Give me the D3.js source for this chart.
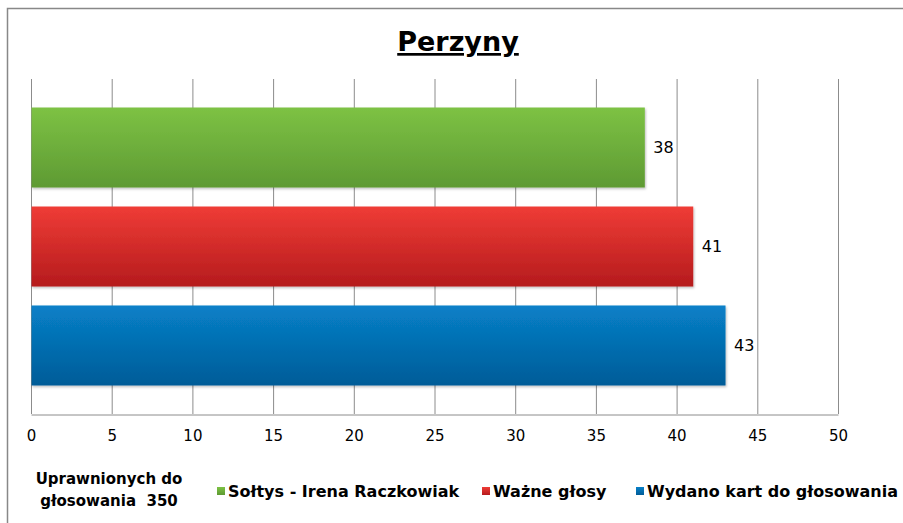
<!DOCTYPE html>
<html>
<head>
<meta charset="utf-8">
<script src="https://cdnjs.cloudflare.com/ajax/libs/d3/7.8.5/d3.min.js"></script>
<style>
  body { margin: 0; background: #fff; }
  svg { display: block; font-family: "DejaVu Sans", Verdana, sans-serif; }
</style>
</head>
<body>
<svg width="903" height="523"></svg>
<script>
var title = 'Perzyny';
var categories = ['Sołtys - Irena Raczkowiak', 'Ważne głosy', 'Wydano kart do głosowania'];
var values = [38, 41, 43];
var ticks = [0, 5, 10, 15, 20, 25, 30, 35, 40, 45, 50];
var note = ['Uprawnionych do', 'głosowania  350'];
var colors = [['#7dc244', '#5e9a33'], ['#ef3c36', '#b51b1d'], ['#0880c8', '#015c98']];

var svg = d3.select('svg');

// outer frame
svg.append('path')
  .attr('d', 'M7.5,523 V8.5 H903')
  .attr('fill', 'none')
  .attr('stroke', '#888')
  .attr('stroke-width', 1.5);

var x = d3.scaleLinear().domain([0, 50]).range([31, 838]);
var y = d3.scaleBand().domain(categories).range([79, 414])
  .paddingInner(0.192).paddingOuter(0.288);

var defs = svg.append('defs');
colors.forEach(function(c, i) {
  var g = defs.append('linearGradient').attr('id', 'g' + i)
    .attr('x1', 0).attr('y1', 0).attr('x2', 0).attr('y2', 1);
  g.append('stop').attr('offset', '0%').attr('stop-color', c[0]);
  g.append('stop').attr('offset', '100%').attr('stop-color', c[1]);
});
var f = defs.append('filter').attr('id', 'sh').attr('x', '-5%').attr('y', '-10%').attr('width', '110%').attr('height', '130%');
f.append('feDropShadow').attr('dx', 1).attr('dy', 1.5).attr('stdDeviation', 1).attr('flood-color', '#000').attr('flood-opacity', 0.25);

// gridlines
svg.append('g').selectAll('line').data(ticks).join('line')
  .attr('x1', function(d) { return x(d) + 0.5; })
  .attr('x2', function(d) { return x(d) + 0.5; })
  .attr('y1', 79).attr('y2', 414)
  .attr('stroke', '#8c8c8c').attr('stroke-width', 1);

// x axis
var xAxis = svg.append('g').attr('transform', 'translate(0,414.5)')
  .call(d3.axisBottom(x).tickValues(ticks).tickSize(0).tickPadding(16));
xAxis.select('.domain').attr('stroke', '#8c8c8c');
xAxis.selectAll('text').attr('font-size', 15).attr('fill', '#000')
  .attr('font-family', '"DejaVu Sans", Verdana, sans-serif');

// bars
svg.append('g').selectAll('rect').data(values).join('rect')
  .attr('x', x(0) + 0.5)
  .attr('y', function(d, i) { return y(categories[i]); })
  .attr('width', function(d) { return x(d) - x(0); })
  .attr('height', y.bandwidth())
  .attr('fill', function(d, i) { return 'url(#g' + i + ')'; })
  .attr('filter', 'url(#sh)');

// value labels
svg.append('g').selectAll('text').data(values).join('text')
  .attr('x', function(d) { return x(d) + 9; })
  .attr('y', function(d, i) { return y(categories[i]) + y.bandwidth() / 2; })
  .attr('dy', '0.35em')
  .attr('font-size', 16)
  .text(function(d) { return d; });

// title
svg.append('text')
  .attr('x', 458).attr('y', 51)
  .attr('text-anchor', 'middle')
  .attr('font-size', 27).attr('font-weight', 'bold')
  .attr('text-decoration', 'underline')
  .text(title);

// note on left
svg.append('g').selectAll('text').data(note).join('text')
  .attr('x', 109)
  .attr('y', function(d, i) { return 484 + i * 22; })
  .attr('text-anchor', 'middle')
  .attr('font-size', 15).attr('font-weight', 'bold')
  .style('white-space', 'pre')
  .text(function(d) { return d; });

// legend
var legX = [217, 482, 636];
var leg = svg.append('g').selectAll('g').data(categories).join('g')
  .attr('transform', function(d, i) { return 'translate(' + legX[i] + ',491)'; });
leg.append('rect').attr('x', 0).attr('y', -4).attr('width', 8).attr('height', 8)
  .attr('fill', function(d, i) { return 'url(#g' + i + ')'; });
leg.append('text').attr('x', 11).attr('dy', '0.35em')
  .attr('font-size', 16).attr('font-weight', 'bold')
  .text(function(d) { return d; });
</script>
</body>
</html>
